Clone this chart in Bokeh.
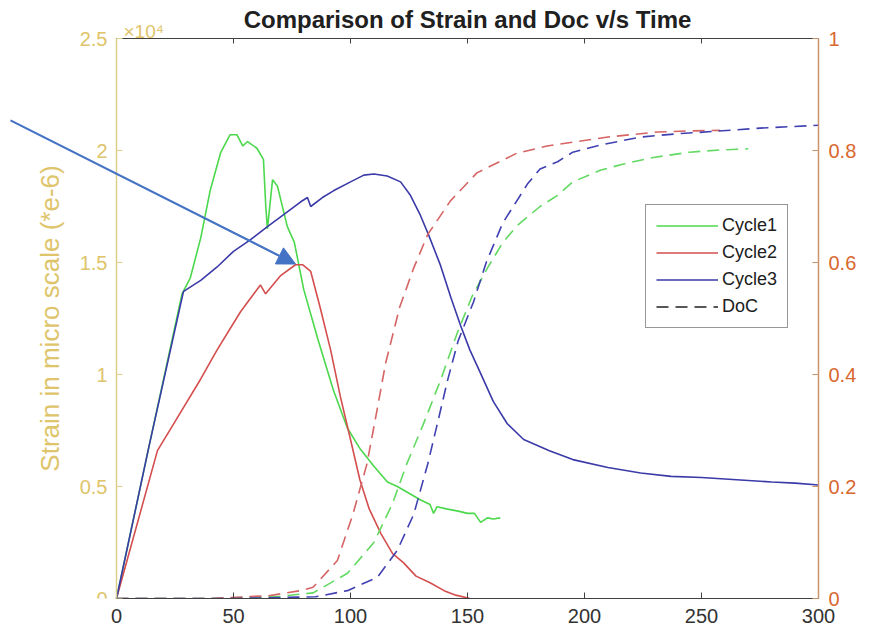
from bokeh.plotting import figure
from bokeh.models import Range1d, LinearAxis, FixedTicker, Label, Arrow, NormalHead, Legend, LegendItem
from bokeh.embed import file_html
from bokeh.resources import INLINE

# ---------------- data ----------------
cycle1_t = [0, 14, 28, 31.5, 36, 40, 44.5, 48.5, 51.5, 54, 56, 60, 62.8, 63.8, 64.5, 66.7, 68.8, 73, 76, 80, 86,
            92.7, 98.7, 104, 110, 115.8, 120, 125, 130, 134, 135.5, 137, 141, 146, 150, 153, 155.6, 158.5, 161, 164]
cycle1_s = [0, 6850, 13600, 14300, 16100, 18200, 19900, 20700, 20700, 20200, 20400, 20100, 19600, 17500, 16500,
            18700, 18400, 16600, 15900, 13800, 11600, 9300, 7600, 6700, 5900, 5200, 5000, 4700, 4400, 4200, 3800,
            4100, 4000, 3900, 3800, 3800, 3400, 3600, 3550, 3600]

cycle2_t = [0, 17.5, 25, 36, 43, 53, 61.5, 63.7, 70, 76.5, 79.5, 83, 87, 91.5, 95.7, 100, 104, 108, 113, 118,
            122.6, 128, 134, 140, 145, 151]
cycle2_s = [0, 6600, 7900, 9800, 11100, 12800, 14000, 13600, 14400, 14900, 14900, 14600, 13000, 11100, 9000, 7100,
            5300, 4000, 2900, 2000, 1600, 1000, 700, 350, 150, 0]

cycle3_t = [0, 14, 28.6, 30, 36, 43, 50, 57, 64.5, 71, 78.6, 81.6, 83, 88, 92.7, 100, 105.7, 110, 115.7, 121.4,
            125.6, 129.9, 133.5, 138.5, 143, 147, 151, 155.6, 161, 167, 174, 185, 195, 210, 224, 237, 250, 265,
            280, 290, 300]
cycle3_s = [0, 6850, 13700, 13800, 14200, 14800, 15500, 16000, 16600, 17100, 17700, 17900, 17500, 17900, 18200,
            18600, 18900, 18950, 18860, 18600, 18000, 17100, 16200, 14860, 13400, 12200, 11100, 10050, 8800, 7800,
            7100, 6600, 6200, 5850, 5600, 5450, 5400, 5300, 5200, 5150, 5070]

doc1_t = [0, 40, 70, 84, 98.7, 110, 118, 124, 131, 138.5, 145.7, 152, 158.5, 165, 171, 181, 188.5, 195, 207,
          216.7, 230, 245, 258, 270]
doc1_v = [0, 0, 0.004, 0.01, 0.045, 0.10, 0.17, 0.24, 0.31, 0.39, 0.475, 0.54, 0.59, 0.635, 0.665, 0.70, 0.72,
          0.744, 0.765, 0.776, 0.788, 0.797, 0.801, 0.803]

doc2_t = [0, 40, 65, 78.6, 84, 94.4, 101, 107, 111.5, 115, 121, 127, 133, 142.7, 154, 171, 184, 195, 210, 231,
          245, 258]
doc2_v = [0, 0, 0.005, 0.014, 0.02, 0.068, 0.15, 0.24, 0.34, 0.42, 0.52, 0.59, 0.65, 0.71, 0.76, 0.795, 0.808,
          0.815, 0.824, 0.833, 0.835, 0.836]

doc3_t = [0, 50, 85, 98.7, 111.5, 120, 127, 133, 137, 141.5, 146, 152.6, 158, 165, 175.6, 181, 188.5, 195, 207,
          224, 240, 255, 275, 300]
doc3_v = [0, 0, 0.003, 0.014, 0.038, 0.086, 0.15, 0.24, 0.31, 0.39, 0.46, 0.53, 0.60, 0.67, 0.74, 0.767, 0.78,
          0.797, 0.81, 0.824, 0.83, 0.834, 0.84, 0.845]

x_ticks = [0, 50, 100, 150, 200, 250, 300]
strain_ticks = [0, 5000, 10000, 15000, 20000, 25000]
strain_tick_labels = ["0", "0.5", "1", "1.5", "2", "2.5"]
doc_ticks = [0, 0.2, 0.4, 0.6, 0.8, 1.0]
doc_tick_labels = ["0", "0.2", "0.4", "0.6", "0.8", "1"]
series_names = ["Cycle1", "Cycle2", "Cycle3", "DoC"]

# annotation arrow (pointing at the Cycle2 peak), in data units
arrow_start = (-45.3, 21345)
arrow_end = (76.5, 14933)

# ---------------- layout ----------------
W_PX, H_PX = 876, 632
FRAME_L, FRAME_R, FRAME_T, FRAME_B = 116, 818, 38, 598      # axes box in the picture
x_lo, x_hi = x_ticks[0], x_ticks[-1]
s_lo, s_hi = strain_ticks[0], strain_ticks[-1]
d_lo, d_hi = doc_ticks[0], doc_ticks[-1]
# the plotting frame also covers the margin left of / above the axes box, so that the
# overlay arrow and the x10^4 note can be drawn there; axes sit at fixed locations.
px_per_x = (FRAME_R - FRAME_L) / (x_hi - x_lo)
px_per_s = (FRAME_B - FRAME_T) / (s_hi - s_lo)
px_per_d = (FRAME_B - FRAME_T) / (d_hi - d_lo)
x_range = Range1d(x_lo - FRAME_L / px_per_x, x_hi)
y_range = Range1d(s_lo, s_lo + FRAME_B / px_per_s)
doc_range = Range1d(d_lo, d_lo + FRAME_B / px_per_d)

# ---------------- style ----------------
FONT = "Liberation Sans"
GOLD = "#DEC46A"
GOLD_LINE = "#D9D08A"
ORANGE = "#D9672F"
ORANGE_LINE = "#C9946B"
DARK = "#404040"
GREEN = "#4CD84C"
RED = "#D44E4E"
BLUE = "#3A3AA8"
GREEN_D = "#62DA62"
RED_D = "#D66464"
BLUE_D = "#4040B2"

p = figure(width=W_PX, height=H_PX, output_backend="svg", toolbar_location=None,
           x_range=x_range, y_range=y_range, x_axis_location=None, y_axis_location=None,
           min_border_left=0, min_border_right=W_PX - FRAME_R, min_border_top=0,
           min_border_bottom=H_PX - FRAME_B)
p.extra_y_ranges = {"doc": doc_range}
p.grid.visible = False
p.outline_line_color = None
p.background_fill_color = "white"
p.border_fill_color = "white"

# bottom axis
xa = LinearAxis(ticker=FixedTicker(ticks=x_ticks), bounds=(x_lo, x_hi))
xa.axis_line_color = DARK
xa.axis_line_width = 1.2
xa.major_tick_line_color = DARK
xa.major_tick_in = 6
xa.major_tick_out = 0
xa.minor_tick_line_color = None
xa.major_label_text_font = FONT
xa.major_label_text_font_size = "20px"
xa.major_label_text_color = "#333333"
xa.major_label_standoff = 10
p.add_layout(xa, "below")

# top border with inward ticks
ta = LinearAxis(ticker=FixedTicker(ticks=x_ticks), bounds=(x_lo, x_hi), fixed_location=s_hi)
ta.axis_line_color = DARK
ta.axis_line_width = 1.2
ta.major_tick_line_color = DARK
ta.major_tick_in = 5
ta.major_tick_out = 0
ta.minor_tick_line_color = None
ta.major_label_text_color = None
p.add_layout(ta, "above")

# left axis
ya = LinearAxis(ticker=FixedTicker(ticks=strain_ticks), bounds=(s_lo, s_hi), fixed_location=x_lo)
ya.major_label_overrides = {t: l for t, l in zip(strain_ticks, strain_tick_labels)}
ya.axis_line_color = GOLD_LINE
ya.axis_line_width = 1.5
ya.major_tick_line_color = GOLD_LINE
ya.major_tick_in = 6
ya.major_tick_out = 0
ya.minor_tick_line_color = None
ya.major_label_text_font = FONT
ya.major_label_text_font_size = "20px"
ya.major_label_text_color = GOLD
ya.major_label_standoff = 9
ya.axis_label = "Strain in micro scale (*e-6)"
ya.axis_label_text_font = FONT
ya.axis_label_text_font_size = "26px"
ya.axis_label_text_font_style = "normal"
ya.axis_label_text_color = GOLD
ya.axis_label_standoff = 12
p.add_layout(ya, "left")

# right axis
ra = LinearAxis(y_range_name="doc", ticker=FixedTicker(ticks=doc_ticks), bounds=(d_lo, d_hi))
ra.major_label_overrides = {t: l for t, l in zip(doc_ticks, doc_tick_labels)}
ra.axis_line_color = ORANGE_LINE
ra.axis_line_width = 1.5
ra.major_tick_line_color = ORANGE_LINE
ra.major_tick_in = 6
ra.major_tick_out = 0
ra.minor_tick_line_color = None
ra.major_label_text_font = FONT
ra.major_label_text_font_size = "20px"
ra.major_label_text_color = ORANGE
ra.major_label_standoff = 10
p.add_layout(ra, "right")

# title and x10^4 multiplier, anchored to the top of the axes box
p.add_layout(Label(x=(x_lo + x_hi) / 2, y=s_hi, y_offset=19, text="Comparison of Strain and Doc v/s Time",
                   text_font=FONT, text_font_size="24px", text_font_style="bold", text_color="#202020",
                   text_align="center", text_baseline="alphabetic"))
p.add_layout(Label(x=x_lo, y=s_hi, x_offset=7, y_offset=7, text="×10⁴", text_font=FONT,
                   text_font_size="19px", text_color=GOLD, text_baseline="alphabetic"))

# series
W = 1.6
DASH = "12 7"
r1 = p.line(cycle1_t, cycle1_s, line_color=GREEN, line_width=W)
r2 = p.line(cycle2_t, cycle2_s, line_color=RED, line_width=W)
r3 = p.line(cycle3_t, cycle3_s, line_color=BLUE, line_width=W)
p.line(doc1_t, doc1_v, y_range_name="doc", line_color=GREEN_D, line_width=W, line_dash=DASH)
p.line(doc2_t, doc2_v, y_range_name="doc", line_color=RED_D, line_width=W, line_dash=DASH)
p.line(doc3_t, doc3_v, y_range_name="doc", line_color=BLUE_D, line_width=W, line_dash=DASH)
# legend proxy for DoC (single point -> draws nothing in the plot)
r4 = p.line(doc3_t[:1], doc3_v[:1], y_range_name="doc", line_color="#202020", line_width=W, line_dash=DASH)

legend = Legend(items=[LegendItem(label=n, renderers=[r]) for n, r in zip(series_names, [r1, r2, r3, r4])],
                location=(645, 270))
legend.border_line_color = "#303030"
legend.border_line_width = 1.2
legend.background_fill_color = "white"
legend.background_fill_alpha = 1
legend.label_text_font = FONT
legend.label_text_font_size = "18px"
legend.label_text_color = "#202020"
legend.padding = 10
legend.spacing = 6
legend.glyph_width = 62
legend.glyph_height = 21
legend.label_height = 21
legend.label_standoff = 4
legend.margin = 0
p.add_layout(legend, "center")

# annotation arrow
p.add_layout(Arrow(x_start=arrow_start[0], y_start=arrow_start[1], x_end=arrow_end[0], y_end=arrow_end[1],
                   line_color="#4472C4", line_width=2.2,
                   end=NormalHead(size=18, fill_color="#4472C4", line_color="#4472C4")))

open("out.html", "w").write(file_html(p, INLINE))
